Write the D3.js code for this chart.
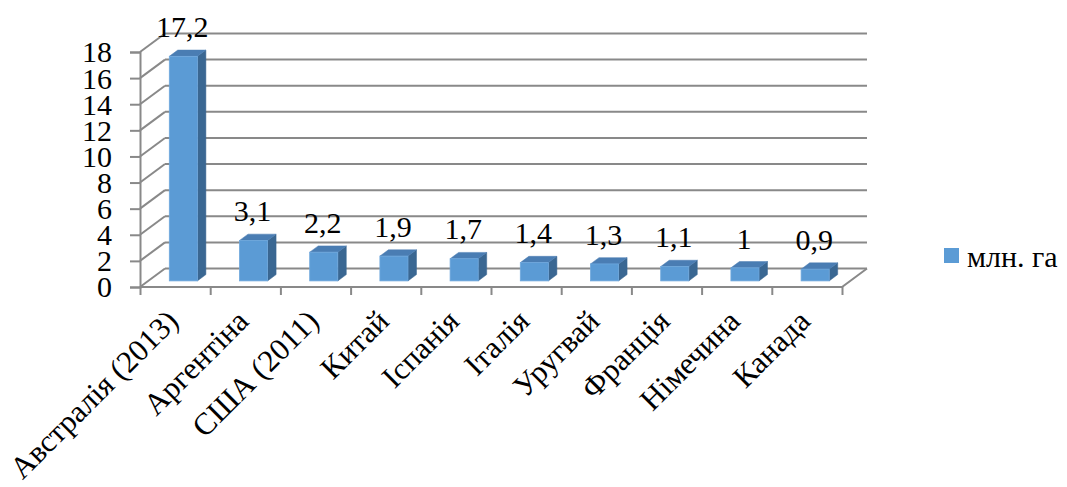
<!DOCTYPE html>
<html><head><meta charset="utf-8">
<script src="https://cdn.jsdelivr.net/npm/d3@7"></script>
<style>
body{margin:0;background:#fff;}
svg{display:block;}
</style></head>
<body>
<script>
const categories = ["Австралія (2013)", "Аргентіна", "США (2011)", "Китай", "Іспанія", "Італія", "Уругвай", "Франція", "Німечина", "Канада"];
const values = [17.2, 3.1, 2.2, 1.9, 1.7, 1.4, 1.3, 1.1, 1, 0.9];
const yTicks = [0, 2, 4, 6, 8, 10, 12, 14, 16, 18];
const seriesName = "млн. га";

const FONT = "'Liberation Serif', 'Times New Roman', Tinos, 'DejaVu Serif', serif";
const W = 1067, H = 487;
const svg = d3.select("body").append("svg").attr("width", W).attr("height", H)
  .style("font-family", FONT);

const x0 = 140, x1 = 842;
const DX = 25, DY = -18.5;
const fFront = 0.33, fBack = 0.67;
const gridColor = "#898989";

const x = d3.scaleBand().domain(categories).range([x0, x1]).paddingInner(0.6).paddingOuter(0.3);
const xb = d3.scaleLinear().domain([0, categories.length]).range([x0, x1]);
const y = d3.scaleLinear().domain([0, 18]).range([287, 52]);

svg.append("g").selectAll("line").data(yTicks).join("line")
  .attr("x1", x0 + DX).attr("x2", x1 + DX)
  .attr("y1", d => y(d) + DY).attr("y2", d => y(d) + DY)
  .attr("stroke", gridColor).attr("stroke-width", 2);
svg.append("g").selectAll("line").data(yTicks).join("line")
  .attr("x1", x0).attr("x2", x0 + DX)
  .attr("y1", d => y(d)).attr("y2", d => y(d) + DY)
  .attr("stroke", gridColor).attr("stroke-width", 2);
svg.append("path")
  .attr("d", `M${x0},${y(0)}L${x1},${y(0)}L${x1 + DX},${y(0) + DY}`)
  .attr("fill", "none").attr("stroke", gridColor).attr("stroke-width", 2);

const yAxis = svg.append("g").attr("transform", `translate(${x0},0)`)
  .call(d3.axisLeft(y).tickValues(yTicks).tickSize(10).tickPadding(18).tickFormat(d3.format("d")));
yAxis.attr("font-family", null).attr("font-size", null);
yAxis.select(".domain").attr("stroke", gridColor).attr("stroke-width", 2);
yAxis.selectAll(".tick line").attr("stroke", gridColor).attr("stroke-width", 2);
yAxis.selectAll("text").style("font-family", FONT).style("font-size", "30px").attr("fill", "#000").attr("dy", "0.33em");

const xAxis = svg.append("g").attr("transform", `translate(0,${y(0)})`)
  .call(d3.axisBottom(xb).tickValues(d3.range(categories.length + 1)).tickSize(8).tickFormat(""));
xAxis.select(".domain").remove();
xAxis.selectAll(".tick line").attr("stroke", gridColor).attr("stroke-width", 2);

const bw = x.bandwidth();
const ox = DX * fFront, oy = DY * fFront;
const ddx = DX * (fBack - fFront), ddy = DY * (fBack - fFront);
const bars = svg.append("g").selectAll("g").data(values).join("g");
bars.each(function(v, i) {
  const g = d3.select(this);
  const xl = x(categories[i]) + ox, xr = xl + bw;
  const yb = y(0) + oy, yt = y(v) + oy;
  g.append("path").attr("d", `M${xr},${yt}L${xr + ddx},${yt + ddy}L${xr + ddx},${yb + ddy}L${xr},${yb}Z`)
    .attr("fill", "#3A6792").attr("stroke", "#3A6792").attr("stroke-width", 0.5);
  g.append("path").attr("d", `M${xl},${yt}L${xl + ddx},${yt + ddy}L${xr + ddx},${yt + ddy}L${xr},${yt}Z`)
    .attr("fill", "#4A7DB3").attr("stroke", "#4A7DB3").attr("stroke-width", 0.5);
  g.append("rect").attr("x", xl).attr("y", yt).attr("width", bw).attr("height", yb - yt)
    .attr("fill", "#5B9BD5").attr("stroke", "#6FA8DD").attr("stroke-width", 0.8);
  g.append("text").attr("x", xl + bw / 2 - 1).attr("y", yt + ddy - 13)
    .attr("text-anchor", "middle").style("font-family", FONT).style("font-size", "30px")
    .text(String(v).replace(".", ","));
});

svg.append("g").selectAll("text").data(categories).join("text")
  .attr("transform", d => `translate(${x(d) + bw / 2 + 5},${y(0) + 36}) rotate(-45)`)
  .attr("text-anchor", "end").style("font-family", FONT).style("font-size", "31px")
  .text(d => d);

svg.append("rect").attr("x", 944).attr("y", 248).attr("width", 15).attr("height", 15).attr("fill", "#5B9BD5");
svg.append("text").attr("x", 967).attr("y", 267).style("font-family", FONT).style("font-size", "30px").text(seriesName);
</script>
</body></html>
